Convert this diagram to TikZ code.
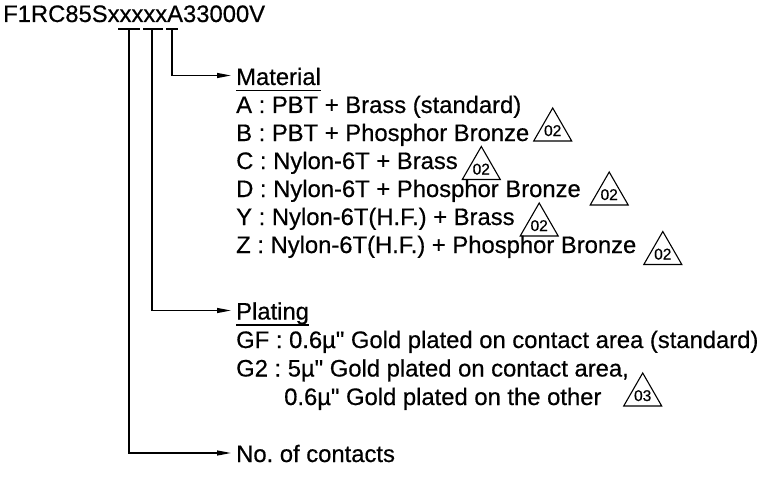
\documentclass[tikz,border=0pt]{standalone}
\usepackage{fontspec}
\setmainfont{Liberation Sans}[Ligatures=TeXOff,FakeBold=0.5]
\usetikzlibrary{arrows.meta,calc}
\newcommand\revtri[4]{%
  \draw[revline] (#2-19,#3) -- (#2,#3-33) -- (#2+19,#3) -- cycle;
  \node[revtxt] (#1) at (#2,#3-5) {#4};}
\begin{document}
\frenchspacing
\begin{tikzpicture}[x=1pt,y=-1pt,
  txt/.style={anchor=base west,inner sep=0pt,font=\fontsize{23.8}{28}\selectfont},
  conn/.style={line width=1.2pt,-{Triangle[length=14pt,width=5pt]}},
  bar/.style={line width=1.2pt},
  revline/.style={line width=1.1pt,line join=miter},
  revtxt/.style={anchor=base,inner sep=0pt,font=\fontsize{15.5}{16}\selectfont}]
\useasboundingbox (0,0) rectangle (770,484);
% title
\node[txt] (title) at (3,22) {F1RC85SxxxxxA33000V};
\coordinate (u1) at (129,29);
\coordinate (u2) at (152,29);
\coordinate (u3) at (172,29);
\draw[bar] (118,29) -- (140,29);
\draw[bar] (143,29) -- (163,29);
\draw[bar] (166,29) -- (178,29);
% material
\node[txt] (mat) at (236,85) {Material};
\draw[bar] ([yshift=-5.5pt]mat.base west) -- ([yshift=-5.5pt]mat.base east);
\node[txt] (ma) at (236,113) {A : PBT + Brass (standard)};
\node[txt] (mb) at (236,141) {B : PBT + Phosphor Bronze};
\node[txt] (mc) at (236,169) {C : Nylon-6T + Brass};
\node[txt] (md) at (236,197) {D : Nylon-6T + Phosphor Bronze};
\node[txt] (my) at (236,225) {Y : Nylon-6T(H.F.) + Brass};
\node[txt] (mz) at (236,253) {Z : Nylon-6T(H.F.) + Phosphor Bronze};
\revtri{rb}{552.7}{141}{02}
\revtri{rc}{481.3}{179.5}{02}
\revtri{rd}{609.2}{205}{02}
\revtri{ry}{539.2}{236}{02}
\revtri{rz}{662.8}{264.5}{02}
% plating
\node[txt] (pl) at (236,319.5) {Plating};
\draw[bar] ([yshift=-5.5pt]pl.base west) -- ([yshift=-5.5pt]pl.base east);
\node[txt] (pgf) at (236,348) {GF : 0.6µ" Gold plated on contact area (standard)};
\node[txt] (pg2) at (236,376.5) {G2 : 5µ" Gold plated on contact area,};
\node[txt] (pg2b) at (284,405) {0.6µ" Gold plated on the other};
\revtri{r3}{642.7}{406}{03}
% contacts
\node[txt] (nc) at (236,462) {No. of contacts};
% connectors
\draw[conn] (u3) |- ([xshift=-5pt,yshift=9.5pt]mat.base west);
\draw[conn] (u2) |- ([xshift=-5pt,yshift=9pt]pl.base west);
\draw[conn] (u1) |- ([xshift=-5pt,yshift=9pt]nc.base west);
\end{tikzpicture}
\end{document}
